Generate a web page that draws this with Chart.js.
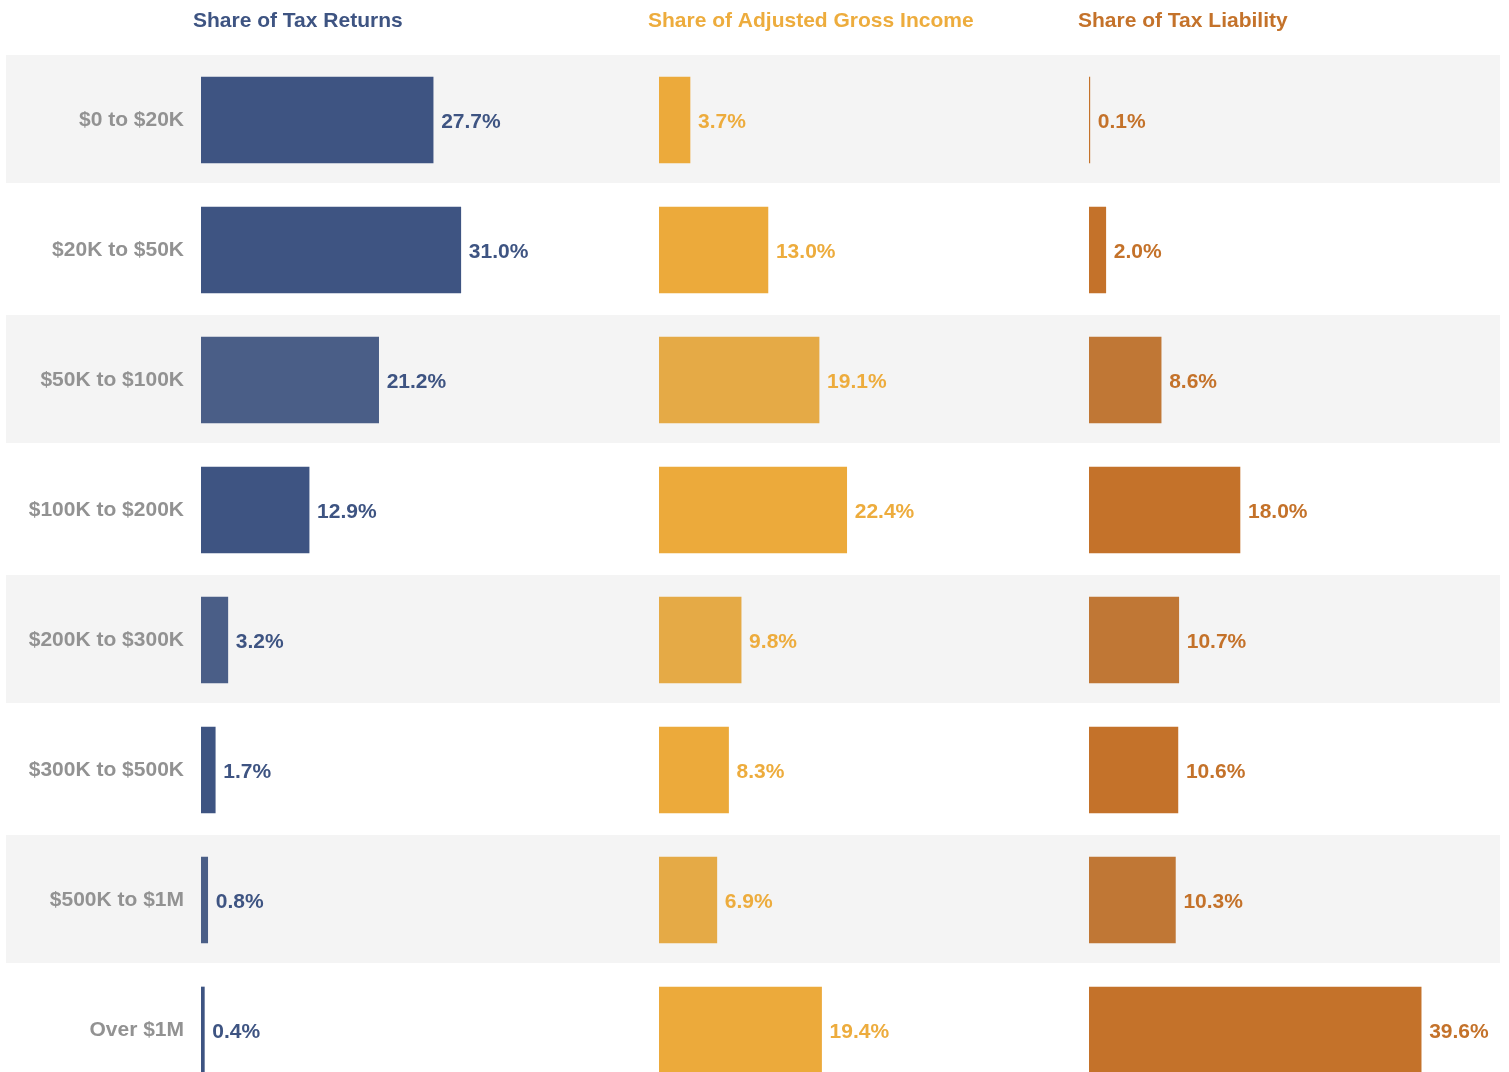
<!DOCTYPE html>
<html lang="en">
<head>
  <meta charset="UTF-8">
  <meta name="viewport" content="width=device-width, initial-scale=1.0">
  <title>Share of Tax Returns, AGI and Tax Liability by Income</title>
  <script src="https://cdn.jsdelivr.net/npm/chart.js"></script>
  <style>
    html, body { margin: 0; padding: 0; background: #fff; overflow: hidden; }
    .panel { position: absolute; top: 0; }
  </style>
</head>
<body>
  <canvas id="returnsChart" class="panel" style="left:6px" width="614" height="1095"></canvas>
  <canvas id="agiChart" class="panel" style="left:620px" width="458" height="1095"></canvas>
  <canvas id="liabilityChart" class="panel" style="left:1078px" width="422" height="1095"></canvas>

  <script>
    const incomeGroups = ['$0 to $20K', '$20K to $50K', '$50K to $100K', '$100K to $200K',
                          '$200K to $300K', '$300K to $500K', '$500K to $1M', 'Over $1M'];
    const shareOfReturns = [27.7, 31.0, 21.2, 12.9, 3.2, 1.7, 0.8, 0.4];
    const shareOfAGI = [3.7, 13.0, 19.1, 22.4, 9.8, 8.3, 6.9, 19.4];
    const shareOfLiability = [0.1, 2.0, 8.6, 18.0, 10.7, 10.6, 10.3, 39.6];

    Chart.defaults.font.family = "'Liberation Sans', Arial, sans-serif";
    Chart.defaults.font.weight = 'bold';

    // grey stripe behind every other income group, full canvas width
    // (beforeDraw so the axis labels end up on top of it)
    const rowBands = {
      id: 'rowBands',
      beforeDraw(chart) {
        const ctx = chart.ctx;
        const y = chart.scales.y;
        const band = (chart.chartArea.bottom - chart.chartArea.top) / incomeGroups.length;
        ctx.save();
        ctx.fillStyle = '#f4f4f4';
        incomeGroups.forEach((g, i) => {
          if (i % 2 !== 0) return;
          const yc = y.getPixelForValue(i);
          ctx.fillRect(0, yc - band / 2, chart.width, band - 2);
        });
        ctx.restore();
      }
    };

    // percentage printed just right of each bar
    const valueLabels = {
      id: 'valueLabels',
      afterDatasetsDraw(chart, args, opts) {
        const ctx = chart.ctx;
        const meta = chart.getDatasetMeta(0);
        const values = chart.data.datasets[0].data;
        ctx.save();
        ctx.font = 'bold 21px ' + Chart.defaults.font.family;
        ctx.fillStyle = opts.color;
        ctx.textAlign = 'left';
        ctx.textBaseline = 'alphabetic';
        meta.data.forEach((bar, i) => {
          ctx.fillText(values[i].toFixed(1) + '%', bar.x + 8, bar.y + 8);
        });
        ctx.restore();
      }
    };

    const panelTitle = {
      id: 'panelTitle',
      afterDraw(chart, args, opts) {
        const ctx = chart.ctx;
        ctx.save();
        ctx.font = 'bold 21px ' + Chart.defaults.font.family;
        ctx.fillStyle = opts.color;
        ctx.textAlign = 'left';
        ctx.textBaseline = 'alphabetic';
        ctx.fillText(opts.text, chart.chartArea.left - opts.shift, 27);
        ctx.restore();
      }
    };

    function stripeColors(dark, light) {
      return incomeGroups.map((g, i) => (i % 2 === 0 && i > 0) ? light : dark);
    }

    function makeChart(id, values, title, color, barColors, padLeft, xMax, shift, showGroups) {
      return new Chart(document.getElementById(id), {
        type: 'bar',
        data: {
          labels: incomeGroups,
          datasets: [{
            label: title,
            data: values,
            backgroundColor: barColors,
            barThickness: 86
          }]
        },
        options: {
          indexAxis: 'y',
          responsive: false,
          animation: false,
          layout: { padding: { left: padLeft, top: 55, right: 0, bottom: 0 } },
          scales: {
            x: { display: false, min: 0, max: xMax },
            y: {
              display: showGroups,
              grid: { display: false, drawTicks: false },
              border: { display: false },
              ticks: { color: '#929292', padding: 17, autoSkip: false, font: { size: 21, weight: 'bold' } },
              afterFit: s => {
                if (!showGroups) return;
                s.width = 195;
                s.paddingTop = 0;
                s.paddingBottom = 0;
              }
            }
          },
          plugins: {
            legend: { display: false },
            tooltip: { enabled: false },
            valueLabels: { color: color },
            panelTitle: { text: title, color: color, shift: shift }
          }
        },
        plugins: [rowBands, valueLabels, panelTitle]
      });
    }

    makeChart('returnsChart', shareOfReturns, 'Share of Tax Returns', '#3e5482',
      stripeColors('#3e5482', '#4a5e87'), 0, 50, 8, true);
    makeChart('agiChart', shareOfAGI, 'Share of Adjusted Gross Income', '#edac3d',
      stripeColors('#ecaa3b', '#e5aa46'), 39, 50, 11, false);
    makeChart('liabilityChart', shareOfLiability, 'Share of Tax Liability', '#c4722a',
      stripeColors('#c4722a', '#c07735'), 11, 49, 11, false);
  </script>
</body>
</html>
